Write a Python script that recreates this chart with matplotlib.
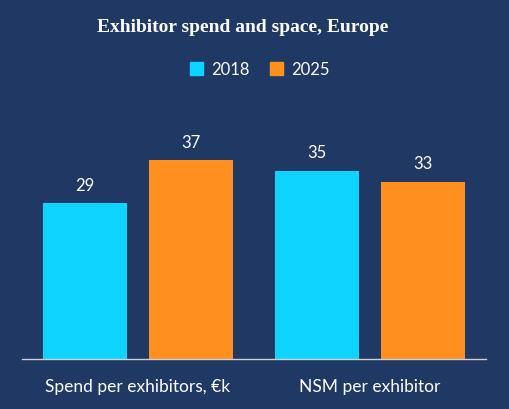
import matplotlib
matplotlib.use("Agg")
import matplotlib.pyplot as plt
import numpy as np
from matplotlib.patches import Patch

categories = ["Spend per exhibitors, €k", "NSM per exhibitor"]
series_names = ["2018", "2025"]
values_2018 = [29, 35]
values_2025 = [37, 33]

BG = "#203864"
C2018 = "#0dd5ff"
C2025 = "#ff9020"

plt.rcParams['font.family'] = ['Lato', 'DejaVu Sans']

fig = plt.figure(figsize=(5.1, 4.1), dpi=100, facecolor=BG)
ax = fig.add_axes([22/510, 50/410, 464/510, 260/410])
ax.set_facecolor(BG)

x = np.arange(len(categories))
w = 84/232
off = 53/232
b1 = ax.bar(x - off, values_2018, w, color=C2018, label=series_names[0])
b2 = ax.bar(x + off, values_2025, w, color=C2025, label=series_names[1])
for bars in (b1, b2):
    for r in bars:
        ax.text(r.get_x() + r.get_width()/2, r.get_height() + 2.0, f"{r.get_height():g}",
                ha="center", va="bottom", color="white", fontsize=12)

ax.set_xlim(-0.5, 1.5)
ax.set_ylim(0, 260/5.37)
for s in ["top", "right", "left"]:
    ax.spines[s].set_visible(False)
ax.spines["bottom"].set_color("#d0d0d0")
ax.spines["bottom"].set_linewidth(1)
ax.set_yticks([])
ax.set_xticks(x)
ax.set_xticklabels(categories, color="white", fontsize=12.5)
ax.tick_params(axis="x", length=0, pad=14)

fig.text(243/510, 1 - 28/410, "Exhibitor spend and space, Europe", ha="center", va="center",
         color="white", fontsize=14, fontweight="bold", family=["Liberation Serif"])

handles = [Patch(color=C2018, label=series_names[0]), Patch(color=C2025, label=series_names[1])]
fig.legend(handles=handles, loc="center", bbox_to_anchor=(260/510, 1 - 70/410), ncol=2,
           frameon=False, fontsize=12, labelcolor="white", handlelength=0.8, handleheight=0.8,
           handletextpad=0.5, columnspacing=1.2)

fig.savefig("out.png", dpi=100, facecolor=BG)
